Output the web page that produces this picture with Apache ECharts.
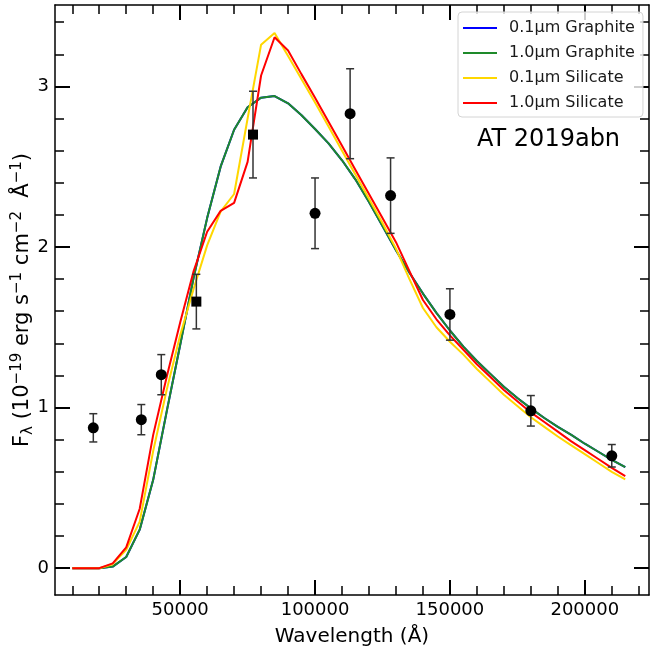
<!DOCTYPE html>
<html>
<head>
<meta charset="utf-8">
<script src="https://cdn.jsdelivr.net/npm/echarts@6/dist/echarts.min.js"></script>
<style>
  html, body { margin: 0; padding: 0; background: #fff; }
  #chart { width: 650px; height: 653px; }
</style>
</head>
<body>
<div id="chart"></div>
<script>
// Dust emission models, sampled on a common wavelength grid (Å)
const modelWave = [10000, 15000, 20000, 25000, 30000, 35000, 40000, 45000, 50000, 55000,
  60000, 65000, 70000, 75000, 80000, 85000, 90000, 95000, 100000, 105000,
  110000, 115000, 120000, 125000, 130000, 135000, 140000, 145000, 150000, 155000,
  160000, 165000, 170000, 175000, 180000, 185000, 190000, 195000, 200000, 205000,
  210000, 215000];

const graphite01 = [0, 0, 0, 0.01, 0.07, 0.24, 0.55, 0.975, 1.39, 1.81,
  2.18, 2.50, 2.73, 2.87, 2.93, 2.94, 2.895, 2.82, 2.735, 2.645,
  2.54, 2.42, 2.28, 2.13, 1.98, 1.84, 1.71, 1.59, 1.48, 1.38,
  1.29, 1.21, 1.13, 1.06, 0.995, 0.935, 0.88, 0.83, 0.775, 0.725,
  0.675, 0.629];

const graphite10 = [0, 0, 0, 0.01, 0.07, 0.24, 0.55, 0.975, 1.39, 1.81,
  2.18, 2.50, 2.73, 2.87, 2.93, 2.94, 2.895, 2.82, 2.735, 2.645,
  2.54, 2.42, 2.28, 2.13, 1.98, 1.84, 1.71, 1.59, 1.48, 1.38,
  1.29, 1.21, 1.13, 1.06, 0.995, 0.935, 0.88, 0.83, 0.775, 0.725,
  0.675, 0.629];

const silicate01 = [0, 0, 0, 0.025, 0.115, 0.29, 0.73, 1.11, 1.45, 1.74,
  2.01, 2.22, 2.33, 2.80, 3.26, 3.333, 3.19, 3.045, 2.90, 2.75,
  2.60, 2.45, 2.30, 2.15, 1.99, 1.80, 1.62, 1.50, 1.41, 1.33,
  1.24, 1.16, 1.08, 1.01, 0.94, 0.88, 0.82, 0.765, 0.71, 0.655,
  0.60, 0.553];

const silicate10 = [0, 0, 0, 0.03, 0.13, 0.37, 0.83, 1.19, 1.53, 1.85,
  2.095, 2.225, 2.275, 2.53, 3.068, 3.306, 3.224, 3.075, 2.93, 2.78,
  2.63, 2.48, 2.33, 2.18, 2.03, 1.85, 1.67, 1.55, 1.45, 1.36,
  1.27, 1.19, 1.11, 1.04, 0.97, 0.91, 0.85, 0.79, 0.735, 0.68,
  0.625, 0.573];

// Photometry (circles)
const circWave = [17800, 35600, 43000, 100000, 113000, 128000, 150000, 180000, 210000];
const circFlux = [0.874, 0.925, 1.205, 2.21, 2.83, 2.32, 1.58, 0.98, 0.70];
const circErr  = [0.088, 0.094, 0.125, 0.22, 0.28, 0.235, 0.16, 0.095, 0.07];

// Photometry (squares)
const sqWave = [56000, 77000];
const sqFlux = [1.66, 2.70];
const sqErr  = [0.17, 0.27];

// Axis ranges and ticks
const X_MIN = 3600, X_MAX = 223800;
const Y_MIN = -0.167, Y_MAX = 3.507;
const xMajor = [50000, 100000, 150000, 200000];
const xMinor = [10000, 20000, 30000, 40000, 60000, 70000, 80000, 90000, 110000, 120000,
  130000, 140000, 160000, 170000, 180000, 190000, 210000, 220000];
const yMajor = [0, 1, 2, 3];
const yMinor = [0.2, 0.4, 0.6, 0.8, 1.2, 1.4, 1.6, 1.8, 2.2, 2.4, 2.6, 2.8, 3.2, 3.4];

const FONT = 'DejaVu Sans';
const zip = (xs, ys) => xs.map((x, i) => [x, ys[i]]);

function axisSet(kind, pos, ticks, tickLen, tickWidth, withLine, withLabels, extra) {
  const base = {
    type: 'value',
    position: pos,
    min: kind === 'x' ? X_MIN : Y_MIN,
    max: kind === 'x' ? X_MAX : Y_MAX,
    axisLine: { show: withLine, onZero: false, lineStyle: { color: '#000', width: 1.5 } },
    axisTick: { show: true, inside: true, length: tickLen, customValues: ticks,
      lineStyle: { color: '#000', width: tickWidth } },
    axisLabel: withLabels
      ? { show: true, customValues: ticks, color: '#000', fontSize: 18, fontFamily: FONT, margin: 6,
          formatter: function (v) { return String(v); } }
      : { show: false },
    splitLine: { show: false },
    minorTick: { show: false }
  };
  return Object.assign(base, extra || {});
}

const chart = echarts.init(document.getElementById('chart'), null, { renderer: 'canvas' });

const errData = zip(circWave, circFlux).map((p, i) => [p[0], p[1], circErr[i]])
  .concat(zip(sqWave, sqFlux).map((p, i) => [p[0], p[1], sqErr[i]]));

const option = {
  animation: false,
  backgroundColor: '#fff',
  grid: { left: 55, right: 1, top: 5, bottom: 58, containLabel: false, outerBoundsMode: 'none' },
  xAxis: [
    axisSet('x', 'bottom', xMajor, 15, 2, true, true, {
      name: 'Wavelength (Å)', nameLocation: 'middle', nameGap: 32, nameMoveOverlap: false,
      nameTextStyle: { fontSize: 20, fontFamily: FONT, color: '#000' }
    }),
    axisSet('x', 'bottom', xMinor, 9, 1.5, false, false),
    axisSet('x', 'top', xMajor, 15, 2, true, false),
    axisSet('x', 'top', xMinor, 9, 1.5, false, false)
  ],
  yAxis: [
    axisSet('y', 'left', yMajor, 15, 2, true, true, {
      name: '{n|F}{sub|λ}{n| (10}{sup|−19}{n| erg s}{sup|−1}{n| cm}{sup|−2}{n|  Å}{sup|−1}{n|)}',
      nameLocation: 'middle', nameRotate: 90, nameGap: 19, nameMoveOverlap: false,
      nameTextStyle: {
        fontFamily: FONT, color: '#000',
        rich: {
          n: { fontSize: 21, fontFamily: FONT, color: '#000', lineHeight: 26 },
          sub: { fontSize: 15, fontFamily: FONT, color: '#000', lineHeight: 26, verticalAlign: 'bottom' },
          sup: { fontSize: 15, fontFamily: FONT, color: '#000', lineHeight: 14, verticalAlign: 'top' }
        }
      }
    }),
    axisSet('y', 'left', yMinor, 9, 1.5, false, false),
    axisSet('y', 'right', yMajor, 15, 2, true, false),
    axisSet('y', 'right', yMinor, 9, 1.5, false, false)
  ],
  legend: {
    show: true,
    orient: 'vertical',
    left: 458, top: 12,
    padding: [6, 8, 4, 5],
    itemGap: 5,
    itemWidth: 34, itemHeight: 2,
    icon: 'rect',
    backgroundColor: 'rgba(255,255,255,0.8)',
    borderColor: '#d4d4d4', borderWidth: 1, borderRadius: 4,
    textStyle: { fontSize: 16, fontFamily: FONT, color: '#1a1a1a', lineHeight: 20, padding: [0, 0, 0, 7] },
    data: ['0.1μm Graphite', '1.0μm Graphite', '0.1μm Silicate', '1.0μm Silicate']
  },
  graphic: [{
    type: 'text', left: 477, top: 128,
    style: { text: 'AT 2019abn', fontSize: 24, fontFamily: FONT, fill: '#000' }
  }],
  series: [
    { name: '0.1μm Graphite', type: 'line', data: zip(modelWave, graphite01), showSymbol: false,
      lineStyle: { color: '#0000ff', width: 2 }, itemStyle: { color: '#0000ff' } },
    { name: '1.0μm Graphite', type: 'line', data: zip(modelWave, graphite10), showSymbol: false,
      lineStyle: { color: '#1e8a2a', width: 2 }, itemStyle: { color: '#1e8a2a' } },
    { name: '0.1μm Silicate', type: 'line', data: zip(modelWave, silicate01), showSymbol: false,
      lineStyle: { color: '#ffd700', width: 2 }, itemStyle: { color: '#ffd700' } },
    { name: '1.0μm Silicate', type: 'line', data: zip(modelWave, silicate10), showSymbol: false,
      lineStyle: { color: '#ff0000', width: 2 }, itemStyle: { color: '#ff0000' } },
    {
      type: 'custom', name: 'errors', z: 5,
      data: errData,
      renderItem: function (params, api) {
        const x = api.value(0), y = api.value(1), e = api.value(2);
        const top = api.coord([x, y + e]);
        const bot = api.coord([x, y - e]);
        const cap = 4;
        const st = { stroke: '#333', lineWidth: 1.5 };
        return {
          type: 'group',
          children: [
            { type: 'line', shape: { x1: top[0], y1: top[1], x2: bot[0], y2: bot[1] }, style: st },
            { type: 'line', shape: { x1: top[0] - cap, y1: top[1], x2: top[0] + cap, y2: top[1] }, style: st },
            { type: 'line', shape: { x1: bot[0] - cap, y1: bot[1], x2: bot[0] + cap, y2: bot[1] }, style: st }
          ]
        };
      }
    },
    { type: 'scatter', name: 'phot', z: 6, data: zip(circWave, circFlux), symbol: 'circle', symbolSize: 11,
      itemStyle: { color: '#000', opacity: 1 } },
    { type: 'scatter', name: 'phot2', z: 6, data: zip(sqWave, sqFlux), symbol: 'rect', symbolSize: 10,
      itemStyle: { color: '#000', opacity: 1 } }
  ]
};

chart.setOption(option);
</script>
</body>
</html>
